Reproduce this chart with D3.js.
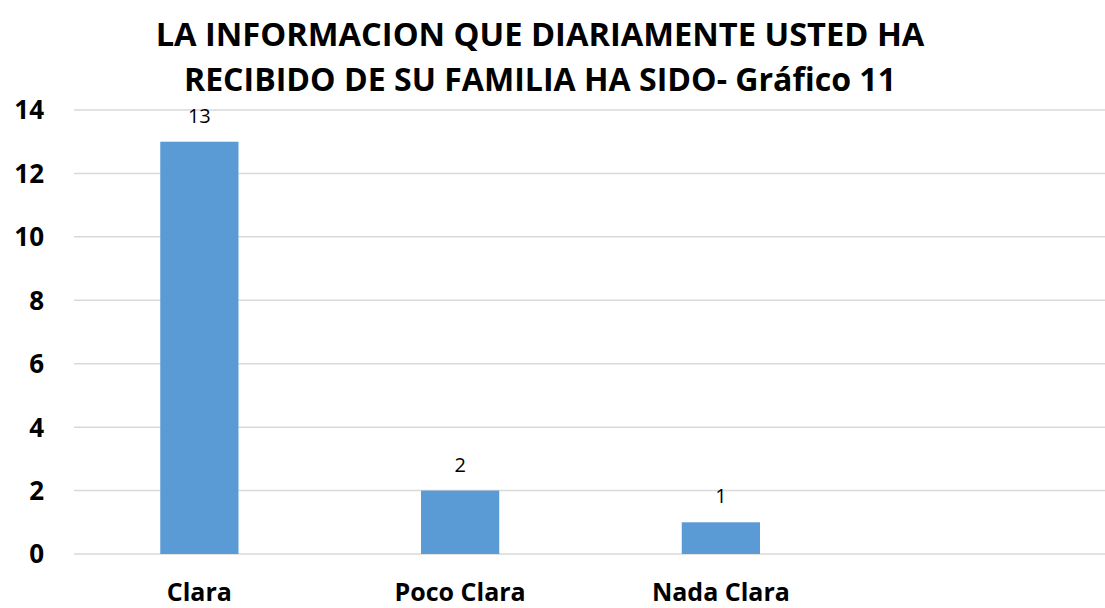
<!DOCTYPE html>
<html lang="es">
<head>
  <meta charset="UTF-8">
  <title>Gráfico 11</title>
  <script src="https://d3js.org/d3.v7.min.js"></script>
  <style>
    body { margin: 0; background: #fff; font-family: "Open Sans", "Liberation Sans", sans-serif; }
    .grid line { stroke: #d9d9d9; stroke-width: 1.5px; }
    .tick-label { font-weight: bold; font-size: 26px; fill: #000; }
    .cat-label { font-weight: bold; font-size: 25px; fill: #000; }
    .value-label { font-size: 20px; fill: #000; }
    .title { font-weight: bold; fill: #000; }
  </style>
</head>
<body>
  <svg id="chart" width="1105" height="608"></svg>
  <script>
    // chart data
    const categories = ["Clara", "Poco Clara", "Nada Clara", ""];
    const values = [13, 2, 1, null];
    const yTicks = [0, 2, 4, 6, 8, 10, 12, 14];
    const titleLines = ["LA INFORMACION QUE DIARIAMENTE USTED HA", "RECIBIDO DE SU FAMILIA HA SIDO- Gráfico 11"];

    const svg = d3.select("#chart");
    const gridLeft = 74, gridRight = 1105;

    const x = d3.scaleBand().domain(categories).range([69, 1112]).padding(0);
    const y = d3.scaleLinear().domain([0, 14]).range([554, 110]);
    const barW = x.bandwidth() * 0.3;

    // gridlines
    svg.append("g").attr("class", "grid")
      .selectAll("line").data(yTicks).enter().append("line")
      .attr("x1", gridLeft).attr("x2", gridRight)
      .attr("y1", d => y(d)).attr("y2", d => y(d));

    // y tick labels
    svg.append("g").selectAll("text").data(yTicks).enter().append("text")
      .attr("class", "tick-label")
      .attr("x", 44).attr("y", d => y(d))
      .attr("dy", "0.36em")
      .attr("text-anchor", "end")
      .text(d => d);

    // bars
    const data = categories.map((c, i) => ({ cat: c, val: values[i] })).filter(d => d.val != null);
    svg.append("g").selectAll("rect").data(data).enter().append("rect")
      .attr("x", d => x(d.cat) + x.bandwidth() / 2 - barW / 2)
      .attr("width", barW)
      .attr("y", d => y(d.val))
      .attr("height", d => y(0) - y(d.val))
      .attr("fill", "#5b9bd5");

    // value labels
    svg.append("g").selectAll("text").data(data).enter().append("text")
      .attr("class", "value-label")
      .attr("x", d => x(d.cat) + x.bandwidth() / 2)
      .attr("y", d => y(d.val) - 19)
      .attr("text-anchor", "middle")
      .text(d => d.val);

    // category labels
    svg.append("g").selectAll("text").data(categories).enter().append("text")
      .attr("class", "cat-label")
      .attr("x", d => x(d) + x.bandwidth() / 2)
      .attr("y", 601)
      .attr("text-anchor", "middle")
      .text(d => d);

    // title
    const title = svg.append("g");
    const targetW = [769, 712];
    titleLines.forEach((t, i) => {
      const el = title.append("text")
        .attr("class", "title")
        .attr("x", 540)
        .attr("y", 46 + i * 45)
        .attr("text-anchor", "middle")
        .style("font-size", "30px")
        .text(t);
      const w = el.node().getComputedTextLength();
      el.style("font-size", (30 * targetW[i] / w).toFixed(2) + "px");
    });
  </script>
</body>
</html>
